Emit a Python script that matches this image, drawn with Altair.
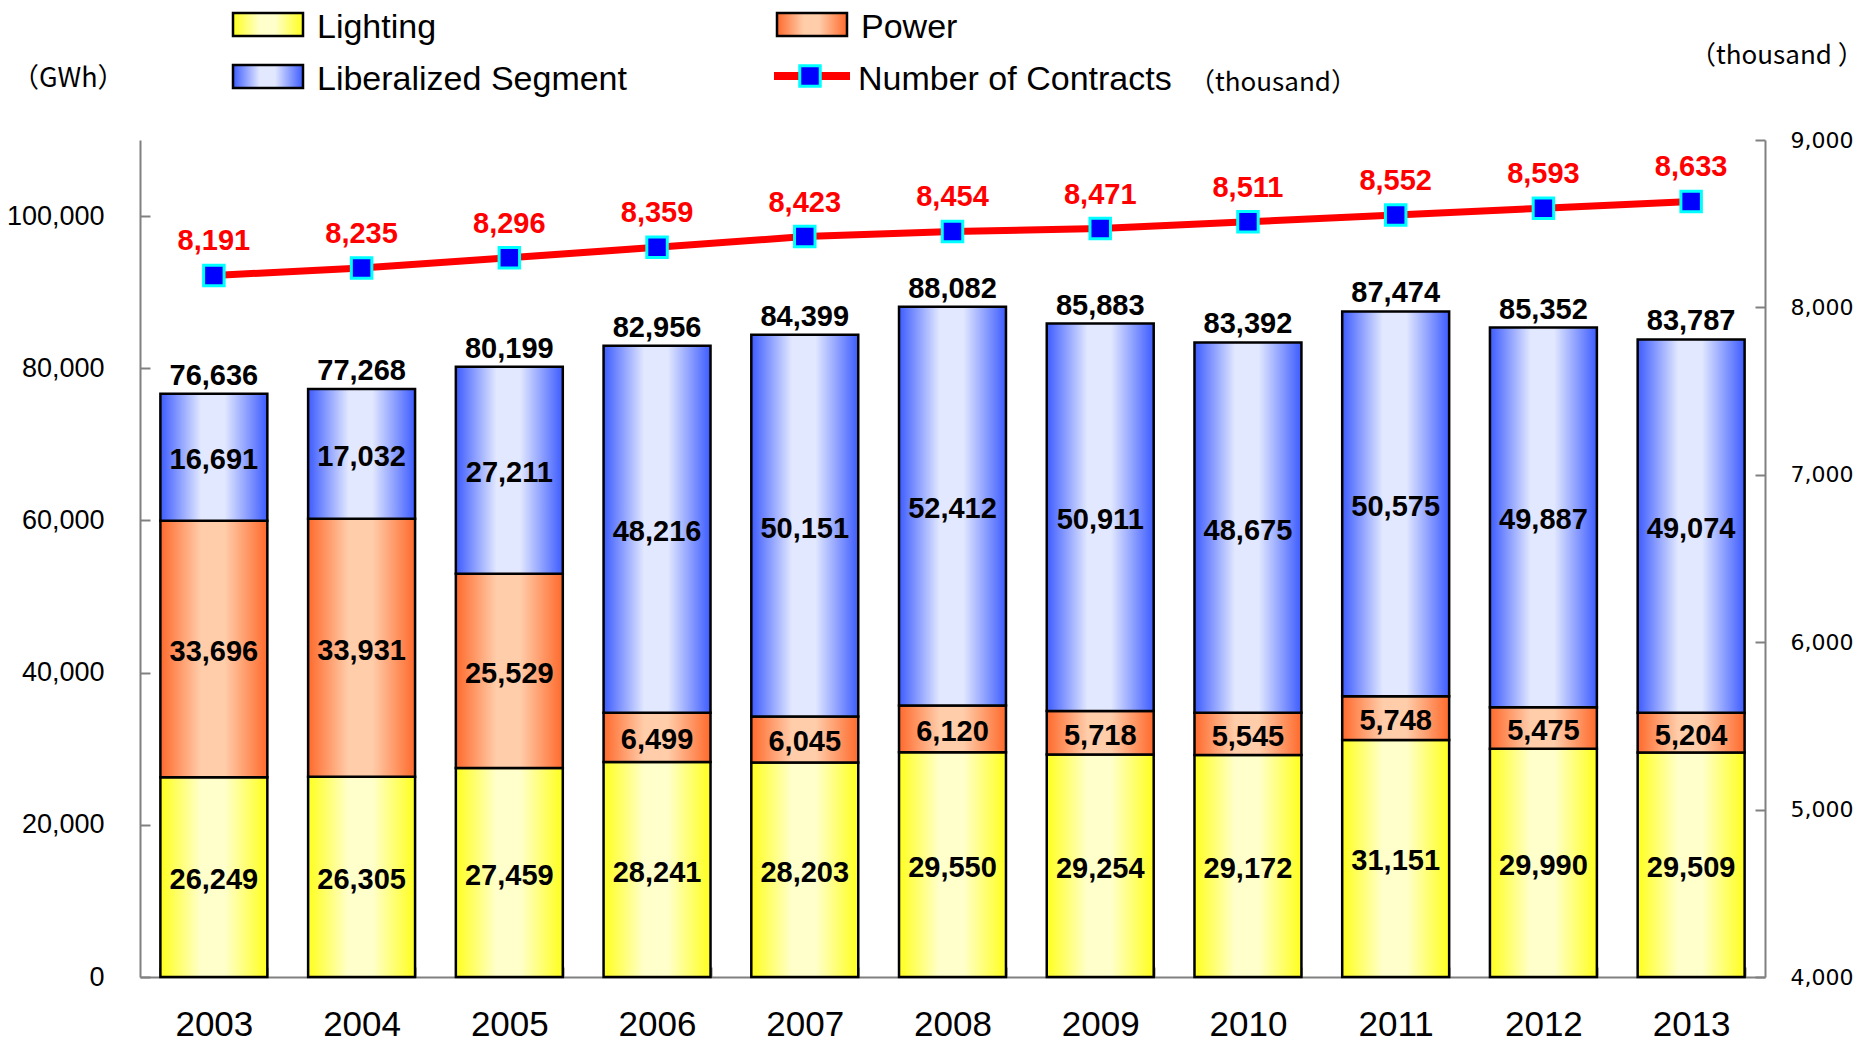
import altair as alt
import pandas as pd

years = ["2003", "2004", "2005", "2006", "2007", "2008", "2009", "2010", "2011", "2012", "2013"]
lighting = [26249, 26305, 27459, 28241, 28203, 29550, 29254, 29172, 31151, 29990, 29509]
power = [33696, 33931, 25529, 6499, 6045, 6120, 5718, 5545, 5748, 5475, 5204]
liberalized = [16691, 17032, 27211, 48216, 50151, 52412, 50911, 48675, 50575, 49887, 49074]
totals = [76636, 77268, 80199, 82956, 84399, 88082, 85883, 83392, 87474, 85352, 83787]
contracts = [8191, 8235, 8296, 8359, 8423, 8454, 8471, 8511, 8552, 8593, 8633]
segment_names = ["Lighting", "Power", "Liberalized Segment"]
line_name = "Number of Contracts"
line_unit = "（thousand）"
left_unit = "（GWh）"
right_unit = "（thousand ）"
left_ticks = [0, 20000, 40000, 60000, 80000, 100000]
right_ticks = [4000, 5000, 6000, 7000, 8000, 9000]

rows = []
for i, yr in enumerate(years):
    base = 0
    for name, vals in zip(segment_names, [lighting, power, liberalized]):
        v = vals[i]
        rows.append(dict(year=yr, segment=name, value=v, start=base, end=base + v, mid=base + v / 2))
        base += v
seg_df = pd.DataFrame(rows)
tot_df = pd.DataFrame({"year": years, "total": totals})
con_df = pd.DataFrame({"year": years, "contracts": contracts})
one = pd.DataFrame({"k": [0]})

W, H = 1625, 837
FONT = "Liberation Sans, Arial, Noto Sans CJK JP, sans-serif"
CJK = "Noto Sans CJK JP, Liberation Sans, sans-serif"
AXIS_GREY = "#808080"


def grad(edge, light):
    return {
        "gradient": "linear", "x1": 0, "y1": 0, "x2": 1, "y2": 0,
        "stops": [
            {"offset": 0, "color": edge},
            {"offset": 0.38, "color": light},
            {"offset": 0.6, "color": light},
            {"offset": 1, "color": edge},
        ],
    }


fills = {
    "Lighting": grad("#FFFF1E", "#FFFFCC"),
    "Power": grad("#FF6A2C", "#FFCDAA"),
    "Liberalized Segment": grad("#3D5CFF", "#E2E8FF"),
}

x_enc = alt.X(
    "year:N",
    scale=alt.Scale(paddingInner=0.276, paddingOuter=0.138),
    axis=alt.Axis(
        title=None, labelAngle=0, labelFontSize=35, labelFont=FONT, labelColor="black",
        domainColor=AXIS_GREY, domainWidth=2, tickBand="extent", tickColor=AXIS_GREY,
        tickWidth=2, tickSize=alt.ExprRef(expr="-10"), labelPadding=40,
    ),
)

left_scale = alt.Scale(domain=[0, 110000], nice=False, zero=True)
left_axis = alt.Axis(
    title=None, values=left_ticks, format=",d", grid=False, labelFontSize=27, labelFont=FONT,
    labelColor="black", domainColor=AXIS_GREY, domainWidth=2, tickColor=AXIS_GREY, tickWidth=2,
    tickSize=alt.ExprRef(expr="-10"), labelPadding=46,
)
right_scale = alt.Scale(domain=[4000, 9000], nice=False, zero=False)
right_axis = alt.Axis(
    title=None, orient="right", values=right_ticks, format=",d", grid=False, labelFontSize=22,
    labelFont="DejaVu Sans, Liberation Sans, sans-serif", labelColor="black",
    domainColor=AXIS_GREY, domainWidth=2, tickColor=AXIS_GREY, tickWidth=2,
    tickSize=alt.ExprRef(expr="-10"), labelPadding=35,
)

left_layers = []
for name in segment_names:
    left_layers.append(
        alt.Chart(seg_df).transform_filter(alt.datum.segment == name)
        .mark_bar(fill=fills[name], stroke="black", strokeWidth=2.5)
        .encode(x=x_enc, y=alt.Y("start:Q", scale=left_scale, axis=left_axis), y2="end:Q")
    )

seg_labels = alt.Chart(seg_df).mark_text(
    font=FONT, fontSize=29, fontWeight="bold", color="black", baseline="middle", align="center", dy=3
).encode(x=x_enc, y=alt.Y("mid:Q", scale=left_scale, axis=left_axis), text=alt.Text("value:Q", format=",d"))

tot_labels = alt.Chart(tot_df).mark_text(
    font=FONT, fontSize=29, fontWeight="bold", color="black", baseline="alphabetic", align="center", dy=-9
).encode(x=x_enc, y=alt.Y("total:Q", scale=left_scale, axis=left_axis), text=alt.Text("total:Q", format=",d"))

left_layers += [seg_labels, tot_labels]

# manual legend (pixel offsets relative to plot area)
legend_layers = []
sw = [(segment_names[0], 93, -127), (segment_names[1], 637, -127), (segment_names[2], 93, -75)]
for name, lx, ly in sw:
    legend_layers.append(
        alt.Chart(one).mark_rect(fill=fills[name], stroke="black", strokeWidth=2.5).encode(
            x=alt.value(lx), x2=alt.value(lx + 70), y=alt.value(ly), y2=alt.value(ly + 23)
        )
    )
    legend_layers.append(
        alt.Chart(one).mark_text(text=name, font=FONT, fontSize=34, color="black", align="left",
                                 baseline="alphabetic").encode(x=alt.value(lx + 84), y=alt.value(ly + 25))
    )
legend_layers.append(
    alt.Chart(one).mark_rule(color="#FF0000", strokeWidth=8).encode(
        x=alt.value(634), x2=alt.value(710), y=alt.value(-64)
    )
)
legend_layers.append(
    alt.Chart(one).mark_square(size=420, fill="#0000FF", stroke="#00FFFF", strokeWidth=3, opacity=1).encode(
        x=alt.value(670), y=alt.value(-64)
    )
)
legend_layers.append(
    alt.Chart(one).mark_text(text=line_name, font=FONT, fontSize=34, color="black", align="left",
                             baseline="alphabetic").encode(x=alt.value(718), y=alt.value(-50))
)
legend_layers.append(
    alt.Chart(one).mark_text(text=line_unit, font=CJK, fontSize=26, color="black", align="left",
                             baseline="alphabetic").encode(x=alt.value(1049), y=alt.value(-49))
)
legend_layers.append(
    alt.Chart(one).mark_text(text=left_unit, font=CJK, fontSize=27, color="black", align="left",
                             baseline="middle").encode(x=alt.value(-128), y=alt.value(-61))
)
legend_layers.append(
    alt.Chart(one).mark_text(text=right_unit, font=CJK, fontSize=26, color="black", align="left",
                             baseline="middle").encode(x=alt.value(1550), y=alt.value(-84))
)

left = alt.layer(*(left_layers + legend_layers))

line = alt.Chart(con_df).mark_line(color="#FF0000", strokeWidth=7).encode(
    x=x_enc, y=alt.Y("contracts:Q", scale=right_scale, axis=right_axis)
)
pts = alt.Chart(con_df).mark_square(size=420, fill="#0000FF", stroke="#00FFFF", strokeWidth=3, opacity=1).encode(
    x=x_enc, y=alt.Y("contracts:Q", scale=right_scale, axis=right_axis)
)
con_labels = alt.Chart(con_df).mark_text(
    font=FONT, fontSize=29, fontWeight="bold", color="#FF0000", baseline="alphabetic", align="center", dy=-25
).encode(x=x_enc, y=alt.Y("contracts:Q", scale=right_scale, axis=right_axis),
         text=alt.Text("contracts:Q", format=",d"))
right = alt.layer(line, pts, con_labels)

chart = (
    alt.layer(left, right)
    .resolve_scale(y="independent")
    .properties(
        width=W, height=H,
        autosize=alt.AutoSizeParams(type="none"),
        padding={"left": 132, "top": 132, "right": 99, "bottom": 65},
    )
    .configure_view(stroke=None)
)

chart.save("out.html", embed_options={"renderer": "svg", "actions": False})
